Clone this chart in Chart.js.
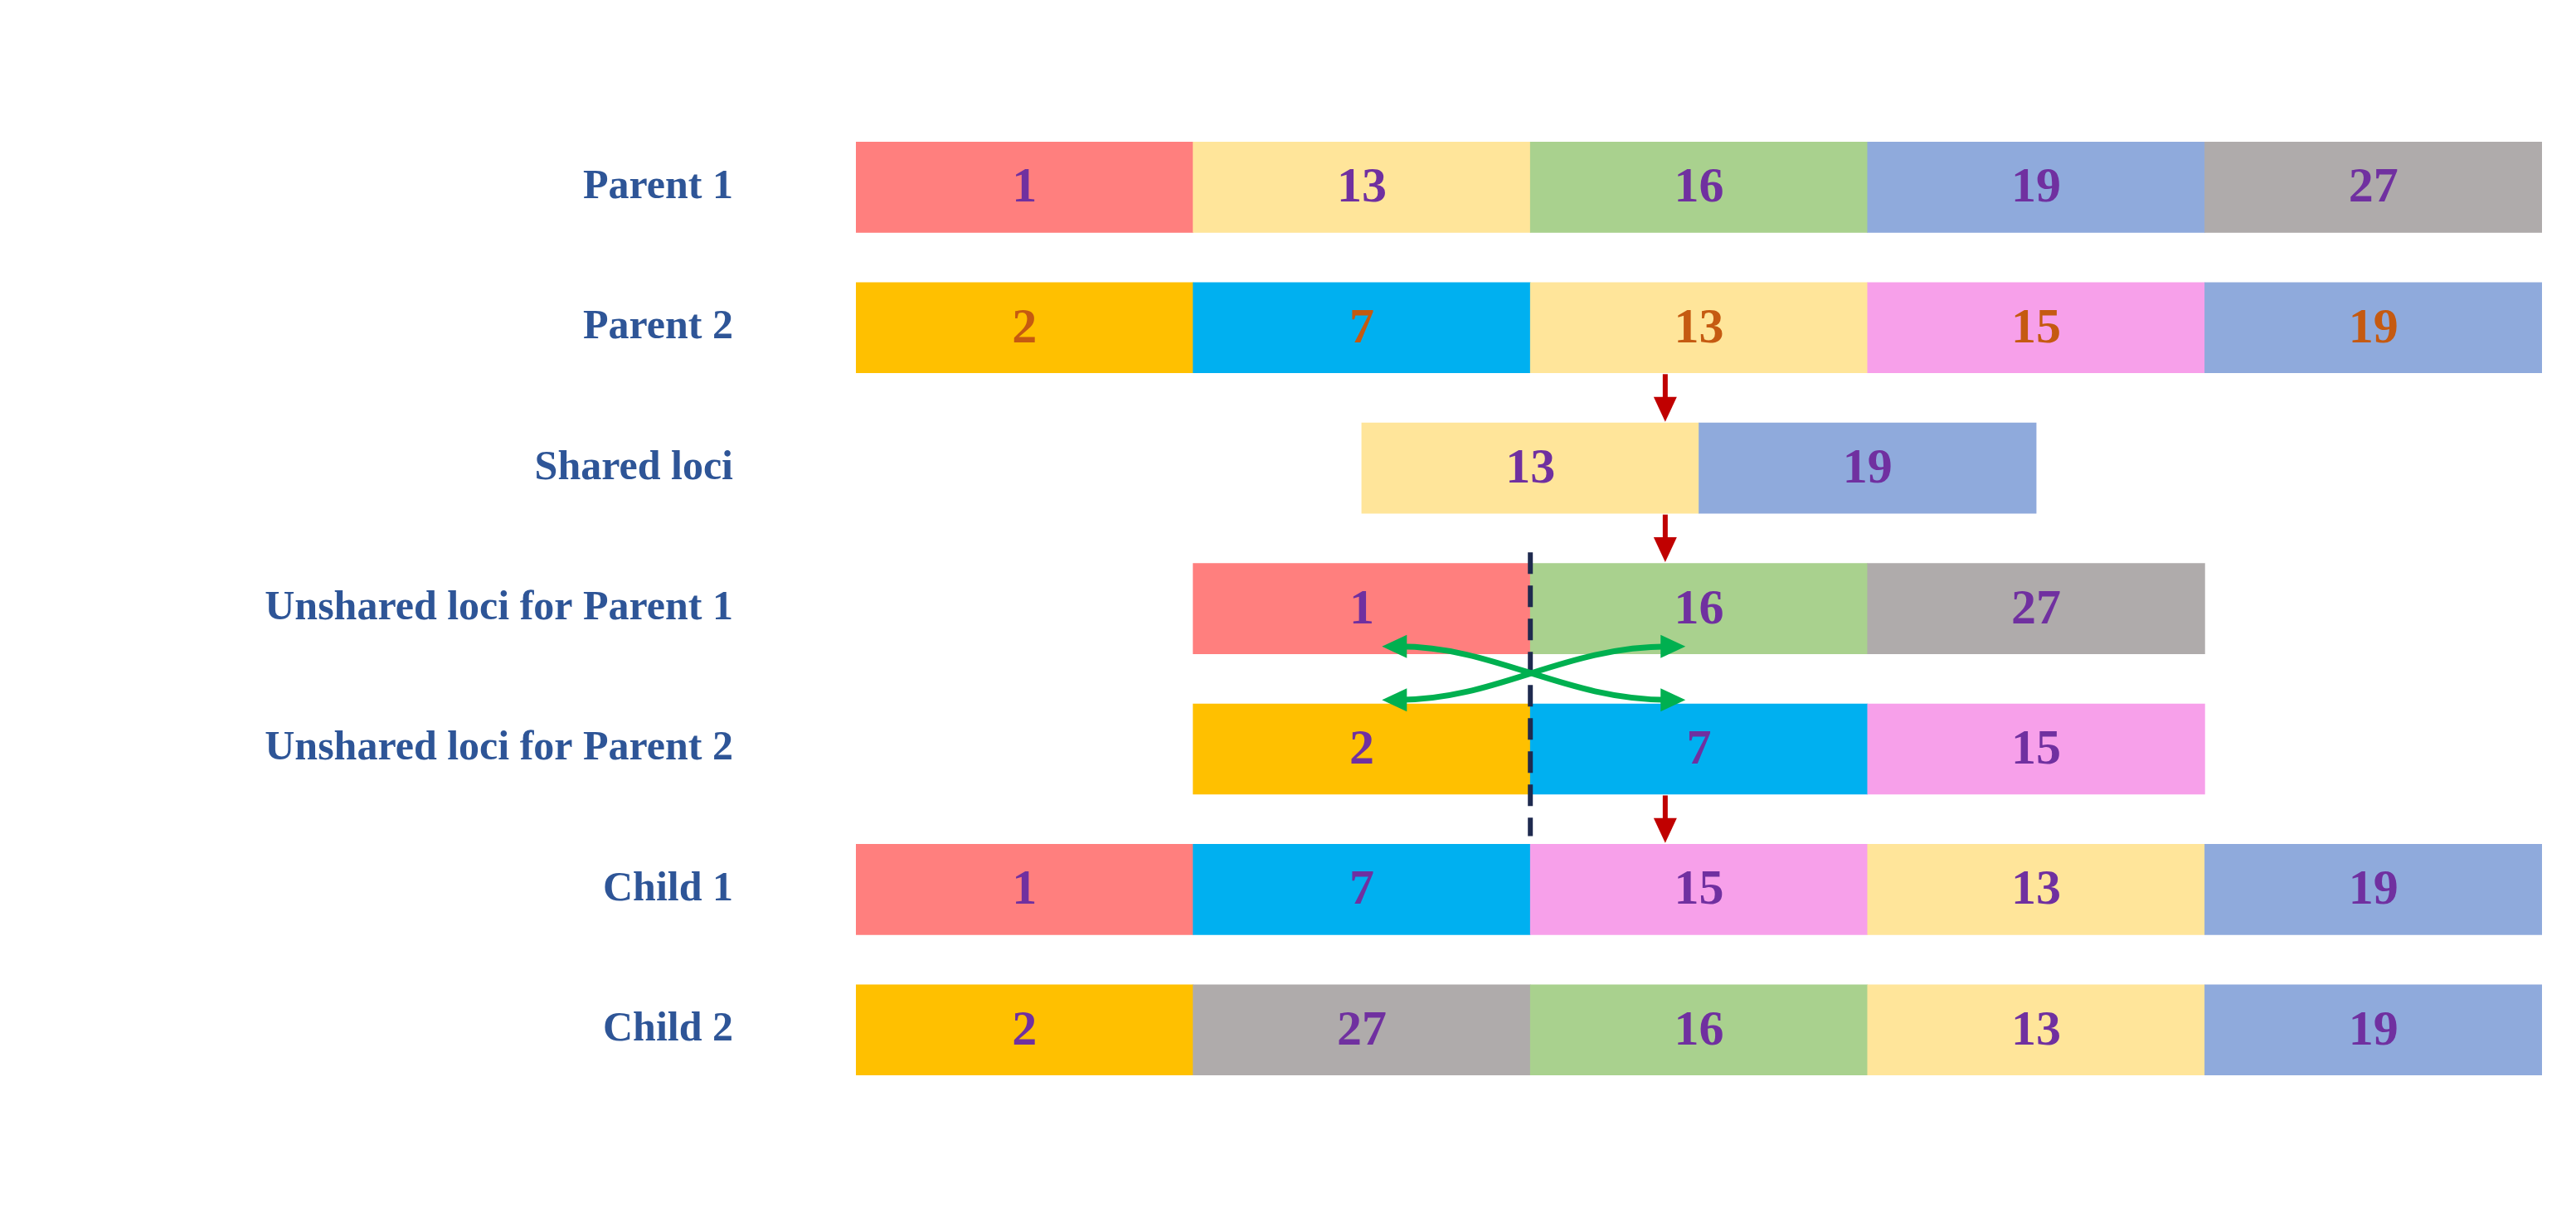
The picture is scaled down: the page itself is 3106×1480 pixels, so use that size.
<!DOCTYPE html>
<html><head><meta charset="utf-8">
<script src="https://cdn.jsdelivr.net/npm/chart.js@4"></script>
<style>html,body{margin:0;padding:0;background:#fff}#w{width:3106px;height:1480px}</style>
</head><body><div id="w"><canvas id="c"></canvas></div>
<script>
const rowLabels = ["Parent 1","Parent 2","Shared loci","Unshared loci for Parent 1","Unshared loci for Parent 2","Child 1","Child 2"];
const rowValues = [[1,13,16,19,27],[2,7,13,15,19],[13,19],[1,16,27],[2,7,15],[1,7,15,13,19],[2,27,16,13,19]];
const rowStarts = [0,0,1.5,1,1,0,0];
const geneColors = {1:"#FF7F7E",13:"#FFE59A",16:"#A9D18E",19:"#8FAADC",27:"#AFABAB",2:"#FFC000",7:"#00B0F0",15:"#F7A0EA"};
const arrowRows = [1.5,2.5,4.5];
const arrowX = 2.4;
const cutX = 2;

const data=[],bg=[],txtCol=[];
rowValues.forEach((vals,r)=>vals.forEach((v,i)=>{
  data.push({x:[rowStarts[r]+i,rowStarts[r]+i+1],y:r,v});
  bg.push(geneColors[v]);
  txtCol.push(r===1?"#C55A11":"#7030A0");
}));

const deco={id:'deco',afterDatasetsDraw(ch){
  const c=ch.ctx,xs=ch.scales.x,ys=ch.scales.y;
  const meta=ch.getDatasetMeta(0);
  c.save();
  c.font="bold 60px 'Liberation Serif'";c.textAlign='center';c.textBaseline='middle';
  meta.data.forEach((el,i)=>{c.fillStyle=txtCol[i];c.fillText(String(data[i].v),(el.base+el.x)/2,el.y+2);});
  c.strokeStyle=c.fillStyle="#C00000";c.lineWidth=6;
  arrowRows.forEach(m=>{
    const x=xs.getPixelForValue(arrowX),y0=ys.getPixelForValue(m-0.5)+56,y1=ys.getPixelForValue(m+0.5)-56;
    c.beginPath();c.moveTo(x,y0);c.lineTo(x,y1-24);c.stroke();
    c.beginPath();c.moveTo(x,y1);c.lineTo(x-14,y1-30);c.lineTo(x+14,y1-30);c.closePath();c.fill();
  });
  const cx=xs.getPixelForValue(cutX);
  c.strokeStyle="#1F2A4F";c.lineWidth=6;c.setLineDash([26,14]);
  c.beginPath();c.moveTo(cx,ys.getPixelForValue(2.6));c.lineTo(cx,ys.getPixelForValue(4.62));c.stroke();
  c.setLineDash([]);
  c.strokeStyle=c.fillStyle="#00B050";c.lineWidth=7;
  const L=xs.getPixelForValue(1.56),R=xs.getPixelForValue(2.46),T=ys.getPixelForValue(3.27),B=ys.getPixelForValue(3.65);
  const head=(x,y,d)=>{c.beginPath();c.moveTo(x,y);c.lineTo(x-d*30,y-14);c.lineTo(x-d*30,y+14);c.closePath();c.fill();};
  [[T,B],[B,T]].forEach(([a,b])=>{
    c.beginPath();c.moveTo(L+20,a);c.bezierCurveTo(cx-40,a,cx+40,b,R-20,b);c.stroke();
    head(L,a,-1);head(R,b,1);
  });
  c.restore();
}};

new Chart(document.getElementById('c'),{
  type:'bar',
  data:{datasets:[{data,backgroundColor:bg,borderWidth:0,barThickness:109}]},
  options:{indexAxis:'y',responsive:true,maintainAspectRatio:false,animation:false,
    layout:{padding:{right:41,top:0,bottom:0,left:0}},
    plugins:{legend:{display:false},tooltip:{enabled:false}},
    scales:{
      x:{type:'linear',min:0,max:5,display:false,offset:false},
      y:{type:'linear',reverse:true,min:-0.33,max:6.4,offset:false,grid:{display:false},border:{display:false},
        afterFit(s){s.width=1032;},
        afterBuildTicks(s){s.ticks=rowLabels.map((_,i)=>({value:i}));},
        ticks:{padding:140,color:"#2E5597",font:{family:"Liberation Serif",weight:'bold',size:50},
          callback:(v)=>rowLabels[v]??''}}
    }},
  plugins:[deco]
});
</script></body></html>
